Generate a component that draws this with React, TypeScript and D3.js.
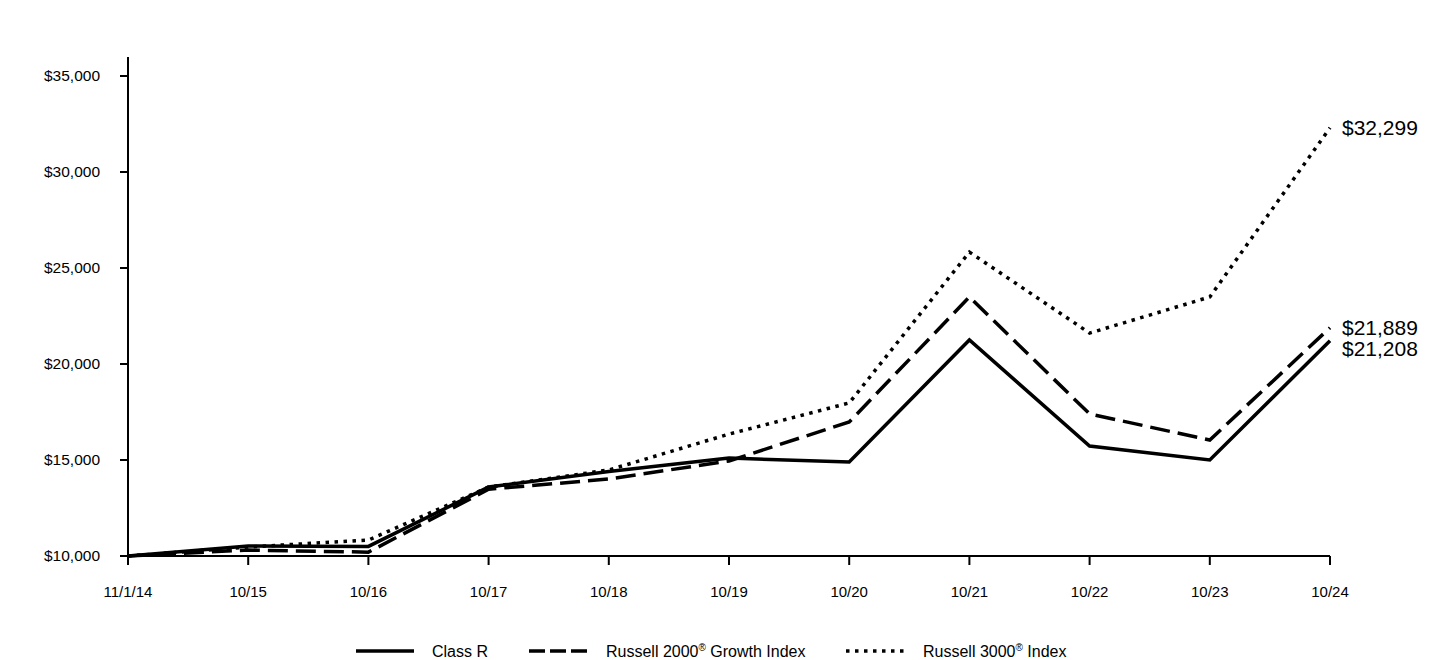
import React from "react";
import * as d3 from "d3";

const dates = ["11/1/14", "10/15", "10/16", "10/17", "10/18", "10/19", "10/20", "10/21", "10/22", "10/23", "10/24"];
const classR = [10000, 10520, 10500, 13590, 14400, 15100, 14900, 21250, 15730, 15000, 21208];
const r2000g = [10000, 10310, 10200, 13480, 14010, 14950, 16980, 23490, 17400, 16040, 21889];
const r3000 = [10000, 10470, 10830, 13590, 14480, 16350, 17970, 25830, 21610, 23490, 32299];
const yTicks = [10000, 15000, 20000, 25000, 30000, 35000];
const endLabels = ["$21,208", "$21,889", "$32,299"];

const series = [
  { name: "Class R", values: classR, dash: "none", legendDash: "none", label: endLabels[0], dy: 8 },
  { name: "Russell 2000", sup: "®", rest: " Growth Index", values: r2000g, dash: "20,8", legendDash: "16,5", label: endLabels[1], dy: 0 },
  { name: "Russell 3000", sup: "®", rest: " Index", values: r3000, dash: "3.5,5.5", legendDash: "3.5,5.5", label: endLabels[2], dy: 0 },
];

export default function App() {
  const x = d3.scalePoint<string>().domain(dates).range([128, 1330]);
  const y = d3.scaleLinear().domain([10000, 35000]).range([556, 76]);
  const line = d3.line<number>().x((_, i) => x(dates[i]) as number).y((d) => y(d));
  const fmt = d3.format("$,");
  const font = "Arial, 'Liberation Sans', sans-serif";
  const legendX = [356, 529, 846];
  return (
    <svg width={1440} height={660} style={{ position: "absolute", left: 0, top: 0 }} fontFamily={font}>
      <rect width={1440} height={660} fill="#fff" />
      {/* y axis */}
      <line x1={128} x2={128} y1={57} y2={557} stroke="#000" strokeWidth={2} />
      {yTicks.map((t) => (
        <g key={t}>
          <line x1={120} x2={128} y1={y(t)} y2={y(t)} stroke="#000" strokeWidth={2} />
          <text x={100} y={y(t)} dy="0.35em" textAnchor="end" fontSize={15.5}>{fmt(t)}</text>
        </g>
      ))}
      {/* x axis */}
      <line x1={127} x2={1330} y1={556} y2={556} stroke="#000" strokeWidth={2} />
      {dates.map((d) => (
        <g key={d}>
          <line x1={x(d)} x2={x(d)} y1={556} y2={565} stroke="#000" strokeWidth={2} />
          <text x={x(d)} y={592} dy="0.35em" textAnchor="middle" fontSize={15}>{d}</text>
        </g>
      ))}
      {series.map((s) => (
        <path key={s.name} d={line(s.values) || ""} fill="none" stroke="#000" strokeWidth={3.5}
          strokeDasharray={s.dash} strokeLinejoin="miter" />
      ))}
      {series.map((s) => (
        <text key={s.name + "l"} x={1342} y={y(s.values[s.values.length - 1]) + s.dy} dy="0.35em" fontSize={21}>{s.label}</text>
      ))}
      {/* legend */}
      {series.map((s, i) => (
        <g key={s.name + "g"}>
          <line x1={legendX[i]} x2={legendX[i] + 58} y1={651} y2={651} stroke="#000" strokeWidth={3.5} strokeDasharray={s.legendDash} />
          <text x={legendX[i] + (i === 0 ? 76 : 77)} y={651} dy="0.35em" fontSize={16}>
            {s.name}
            {s.sup ? <tspan fontSize={10} dy={-6}>{s.sup}</tspan> : null}
            {s.rest ? <tspan dy={6}>{s.rest}</tspan> : null}
          </text>
        </g>
      ))}
    </svg>
  );
}
